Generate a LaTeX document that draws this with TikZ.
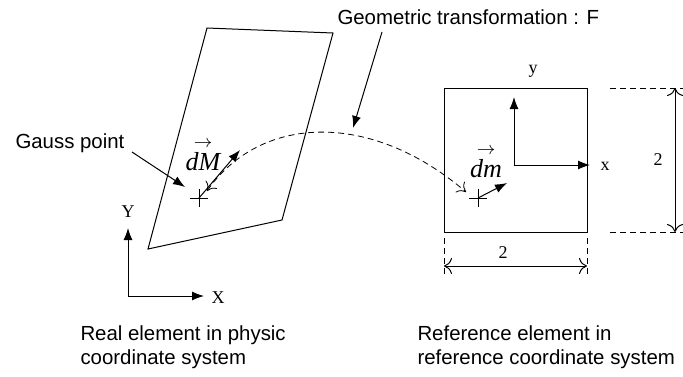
\documentclass[tikz,border=0pt]{standalone}
\usepackage{fontspec}
\setmainfont{Liberation Serif}
\setsansfont{Liberation Sans}
\usetikzlibrary{arrows.meta}

\tikzset{
  txt/.style={font=\sffamily\fontsize{10.2}{12}\selectfont,inner sep=0pt,align=left},
  axlbl/.style={font=\fontsize{9}{10}\selectfont,inner sep=0pt},
  veclbl/.style={font=\fontsize{13}{15}\selectfont,inner sep=0pt},
  arr/.style={-{Latex[length=6pt,width=4.5pt]}},
  dimarr/.style={{To[length=4pt,width=8pt]}-{To[length=4pt,width=8pt]}},
  guide/.style={dashed,dash pattern=on 3pt off 2pt,line width=0.4pt}
}

\begin{document}
\begin{tikzpicture}[x=0.5pt,y=-0.5pt,line width=0.5pt]
\def\crs{9}
  \useasboundingbox (0,0) rectangle (683,376);
  % real element
  \coordinate (p1) at (207,28);
  \coordinate (p2) at (333,33);
  \coordinate (p3) at (282,220);
  \coordinate (p4) at (148,249);
  \draw (p1) -- (p2) -- (p3) -- (p4) -- cycle;
  \coordinate (G)  at (199,198);
  \draw (G) +(-\crs,0) -- +(\crs,0) (G) +(0,-\crs) -- +(0,\crs);
  \coordinate (GM) at (240,150);
  \draw[arr] (G) -- (GM);
  \node[veclbl,anchor=base] (dM) at (203,170) {$\stackrel{\rightarrow}{\textit{dM}}$};
  \node[txt,anchor=west] (gauss) at (15,143) {Gauss point};
  \coordinate (gaussstart) at (132,152);
  \coordinate (gaussend) at (185,187);
  \draw[arr] (gaussstart) -- (gaussend);
  % physic axes
  \coordinate (O)  at (128,296);
  \coordinate (OY) at (128,228);
  \coordinate (OX) at (204,296);
  \draw[arr] (O) -- (OY);
  \draw[arr] (O) -- (OX);
  \node[axlbl] (Y) at (128,212) {Y};
  \node[axlbl] (X) at (218,298) {X};
  \node[txt,anchor=north west] (real) at (80,325) {Real element in physic\\coordinate system};
  % reference element
  \coordinate (q1) at (444,88);
  \coordinate (q3) at (587,232);
  \draw (q1) rectangle (q3);
  \coordinate (o)  at (514,165);
  \coordinate (oy) at (514,97);
  \coordinate (ox) at (590,165);
  \draw[arr] (o) -- (oy);
  \draw[arr] (o) -- (ox);
  \node[axlbl] (y) at (533,71) {y};
  \node[axlbl] (x) at (605,166) {x};
  \coordinate (g)  at (478,198);
  \draw (g) +(-\crs,0) -- +(\crs,0) (g) +(0,-\crs) -- +(0,\crs);
  \coordinate (gm) at (507,183);
  \draw[arr] (g) -- (gm);
  \node[veclbl,anchor=base] (dm) at (486,177) {$\stackrel{\rightarrow}{\textit{dm}}$};
  \node[txt,anchor=north west] (ref) at (417,325) {Reference element in\\reference coordinate system};
  % dimensions
  \coordinate (h1) at (610,88);  \coordinate (h1e) at (683,88);
  \coordinate (h2) at (610,232); \coordinate (h2e) at (683,232);
  \draw[guide] (h1) -- (h1e);
  \draw[guide] (h2) -- (h2e);
  \coordinate (ht) at (675,88);  \coordinate (hb) at (675,232);
  \draw[dimarr] (ht) -- (hb);
  \node[axlbl] (h) at (658,160) {2};
  \coordinate (w1) at (444,238); \coordinate (w1e) at (444,276);
  \coordinate (w2) at (587,238); \coordinate (w2e) at (587,276);
  \draw[guide] (w1) -- (w1e);
  \draw[guide] (w2) -- (w2e);
  \coordinate (wl) at (444,266); \coordinate (wr) at (587,266);
  \draw[dimarr] (wl) -- (wr);
  \node[axlbl] (w) at (503,253) {2};
  % transformation
  \coordinate (Fs) at (207,191);
  \coordinate (Fe) at (466,192);
  \draw[guide,{To[length=4pt,width=7pt]}-{To[length=4pt,width=7pt]}] (Fs) .. controls (260,115) and (370,110) .. (Fe);
  \node[txt,anchor=west] (geo) at (337,17) {Geometric transformation : F};
  \coordinate (geostart) at (382,32);
  \coordinate (geoend) at (353,128);
  \draw[arr] (geostart) -- (geoend);
\end{tikzpicture}
\end{document}
